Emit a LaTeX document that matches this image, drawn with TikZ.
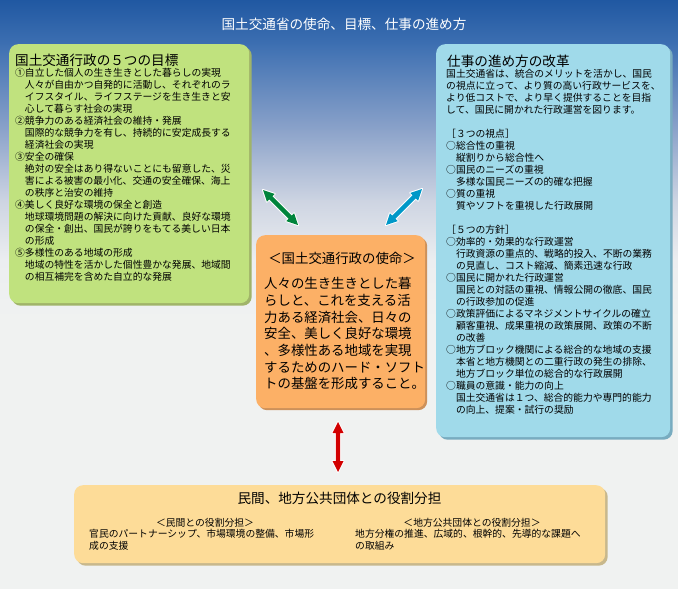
\documentclass[tikz,border=0pt]{standalone}
\usepackage{fontspec}
\newfontfamily\jp{Noto Sans CJK JP}
\usetikzlibrary{calc,shadows}
\definecolor{bgA}{RGB}{32,88,162}
\definecolor{bgB}{RGB}{62,112,178}
\definecolor{bgC}{RGB}{140,163,202}
\definecolor{bgD}{RGB}{205,212,226}
\definecolor{bgE}{RGB}{236,238,240}
\definecolor{bgF}{RGB}{240,242,241}
\definecolor{gbox}{RGB}{192,226,126}
\definecolor{gshadow}{RGB}{160,180,105}
\definecolor{bbox}{RGB}{160,218,234}
\definecolor{bshadow}{RGB}{120,172,192}
\definecolor{obox}{RGB}{252,176,102}
\definecolor{oshadow}{RGB}{205,145,90}
\definecolor{ybox}{RGB}{253,220,152}
\definecolor{yshadow}{RGB}{200,184,140}
\definecolor{garrow}{RGB}{0,132,60}
\definecolor{barrow}{RGB}{0,152,200}
\definecolor{rarrow}{RGB}{210,0,0}
\newcommand\myarrow[3]{%
  \coordinate (#1h) at ($(#1)!11pt!(#2)$);
  \coordinate (#2h) at ($(#2)!11pt!(#1)$);
  \path[fill=#3, preaction={draw=white,line width=2pt,line join=round}]
    (#1) -- ($(#1h)!5.5pt!90:(#2)$) -- ($(#1h)!2.2pt!90:(#2)$)
    -- ($(#2h)!2.2pt!-90:(#1)$) -- ($(#2h)!5.5pt!-90:(#1)$) -- (#2)
    -- ($(#2h)!5.5pt!90:(#1)$) -- ($(#2h)!2.2pt!90:(#1)$)
    -- ($(#1h)!2.2pt!-90:(#2)$) -- ($(#1h)!5.5pt!-90:(#2)$) -- cycle;}
\begin{document}
\begin{tikzpicture}[x=1pt,y=-1pt,
  panel/.style={rounded corners=9pt, inner sep=0pt, anchor=north west},
  body/.style={inner sep=0pt, anchor=base west, text width=300pt, align=left,
    font=\jp\fontsize{9.8}{12}\selectfont},
  head/.style={inner sep=0pt, anchor=base west, font=\jp\fontsize{13.6}{16}\selectfont},
  center/.style={inner sep=0pt, anchor=base, font=\jp\fontsize{9.8}{12}\selectfont}]
\useasboundingbox (0,0) rectangle (678,589);
% background
\fill[bgF] (0,0) rectangle (678,589);
\shade[top color=bgA, bottom color=bgB] (0,0) rectangle (678,46);
\shade[top color=bgB, bottom color=bgC] (0,45) rectangle (678,131);
\shade[top color=bgC, bottom color=bgD] (0,130) rectangle (678,201);
\shade[top color=bgD, bottom color=bgE] (0,200) rectangle (678,261);
\shade[top color=bgE, bottom color=bgF] (0,260) rectangle (678,321);
% title
\node[inner sep=0pt, anchor=base, text=white, font=\jp\fontsize{13.6}{16}\selectfont] (title) at (344,29) {国土交通省の使命、目標、仕事の進め方};
% panels
\node[panel, fill=gbox, minimum width=240pt, minimum height=259pt,
  drop shadow={shadow xshift=2.5pt, shadow yshift=-2.5pt, fill=gshadow, opacity=1}] (goal) at (9,44) {};
\node[panel, fill=bbox, minimum width=234pt, minimum height=393pt,
  drop shadow={shadow xshift=2.5pt, shadow yshift=-2.5pt, fill=bshadow, opacity=1}] (reform) at (436,44) {};
\node[panel, fill=obox, minimum width=169pt, minimum height=173pt,
  drop shadow={shadow xshift=2pt, shadow yshift=-2pt, fill=oshadow, opacity=1}] (mission) at (256,235) {};
\node[panel, fill=ybox, minimum width=531pt, minimum height=78pt,
  drop shadow={shadow xshift=2.5pt, shadow yshift=-2.5pt, fill=yshadow, opacity=1}] (share) at (74,485) {};
% left panel text
\node[head] (goalhead) at (15,65.8) {国土交通行政の５つの目標};
\node[body] (goaltext) at (15,76.8) {①自立した個人の生き生きとした暮らしの実現\\
　人々が自由かつ自発的に活動し、それぞれのラ\\
　イフスタイル、ライフステージを生き生きと安\\
　心して暮らす社会の実現\\
②競争力のある経済社会の維持・発展\\
　国際的な競争力を有し、持続的に安定成長する\\
　経済社会の実現\\
③安全の確保\\
　絶対の安全はあり得ないことにも留意した、災\\
　害による被害の最小化、交通の安全確保、海上\\
　の秩序と治安の維持\\
④美しく良好な環境の保全と創造\\
　地球環境問題の解決に向けた貢献、良好な環境\\
　の保全・創出、国民が誇りをもてる美しい日本\\
　の形成\\
⑤多様性のある地域の形成\\
　地域の特性を活かした個性豊かな発展、地域間\\
　の相互補完を含めた自立的な発展};
% right panel text
\node[head] (reformhead) at (447,66.3) {仕事の進め方の改革};
\node[body] (reformtext) at (446,77.3) {国土交通省は、統合のメリットを活かし、国民\\
の視点に立って、より質の高い行政サービスを、\\
より低コストで、より早く提供することを目指\\
して、国民に開かれた行政運営を図ります。\\
\mbox{}\\
［３つの視点］\\
○総合性の重視\\
　縦割りから総合性へ\\
○国民のニーズの重視\\
　多様な国民ニーズの的確な把握\\
○質の重視\\
　質やソフトを重視した行政展開\\
\mbox{}\\
［５つの方針］\\
○効率的・効果的な行政運営\\
　行政資源の重点的、戦略的投入、不断の業務\\
　の見直し、コスト縮減、簡素迅速な行政\\
○国民に開かれた行政運営\\
　国民との対話の重視、情報公開の徹底、国民\\
　の行政参加の促進\\
○政策評価によるマネジメントサイクルの確立\\
　顧客重視、成果重視の政策展開、政策の不断\\
　の改善\\
○地方ブロック機関による総合的な地域の支援\\
　本省と地方機関との二重行政の発生の排除、\\
　地方ブロック単位の総合的な行政展開\\
○職員の意識・能力の向上\\
　国土交通省は１つ、総合的能力や専門的能力\\
　の向上、提案・試行の奨励};
% center panel text
\node[inner sep=0pt, anchor=base, font=\jp\fontsize{13.4}{16}\selectfont] (missionhead) at (342,263) {＜国土交通行政の使命＞};
\node[inner sep=0pt, anchor=base west, text width=170pt, align=left,
  font=\jp\fontsize{13.4}{16.7}\selectfont] (missiontext) at (264,288.6) {人々の生き生きとした暮\\
らしと、これを支える活\\
力ある経済社会、日々の\\
安全、美しく良好な環境\\
、多様性ある地域を実現\\
するためのハード・ソフト\\
トの基盤を形成すること。};
% bottom panel text
\node[inner sep=0pt, anchor=base, font=\jp\fontsize{13.6}{16}\selectfont] (sharehead) at (339.5,503) {民間、地方公共団体との役割分担};
\node[center] (privhead) at (205,526.8) {＜民間との役割分担＞};
\node[center] (lochead) at (472,526.8) {＜地方公共団体との役割分担＞};
\node[body] (privtext) at (89,537.8) {官民のパートナーシップ、市場環境の整備、市場形\\
成の支援};
\node[body] (loctext) at (355,537.8) {地方分権の推進、広域的、根幹的、先導的な課題へ\\
の取組み};
% arrows
\coordinate (ga1) at (263,190);
\coordinate (ga2) at (298,225);
\coordinate (ba1) at (422,189);
\coordinate (ba2) at (386,225);
\coordinate (ra1) at (338,422);
\coordinate (ra2) at (338,472);
\myarrow{ga1}{ga2}{garrow}
\myarrow{ba1}{ba2}{barrow}
\myarrow{ra1}{ra2}{rarrow}
\end{tikzpicture}
\end{document}
